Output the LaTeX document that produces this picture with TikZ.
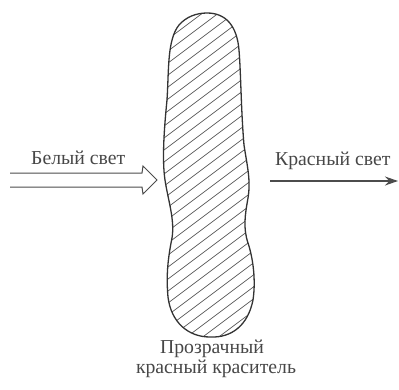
\documentclass[tikz,border=0pt]{standalone}
\usepackage{fontspec}
\setmainfont{Liberation Serif}
\usetikzlibrary{arrows.meta}
\tikzset{
  lbl/.style={font=\fontsize{19.8}{21}\selectfont, text=black!72, inner sep=0pt},
  outline/.style={draw=black!80, line width=1.3bp},
  hatch/.style={draw=black!65, line width=0.7bp},
  hollow/.style={draw=black!70, line width=1bp, line join=miter},
  ray/.style={draw=black!70, line width=1.1bp, -{Stealth[length=13bp,width=9bp]}}
}
\begin{document}
\begin{tikzpicture}[x=1bp,y=-1bp]
\useasboundingbox (0,0) rectangle (399,390);
% blob
\def\blobpath{(207,13) .. controls (226,13) and (237,26) .. (239,50)
  .. controls (241,75) and (241,110) .. (244,145)
  .. controls (247,165) and (251,180) .. (248,198)
  .. controls (245,215) and (243,228) .. (248,243)
  .. controls (253,258) and (256,280) .. (253,300)
  .. controls (248,325) and (232,338) .. (210,337)
  .. controls (188,337) and (171,322) .. (168,297)
  .. controls (166,275) and (168,258) .. (172,238)
  .. controls (175,220) and (168,200) .. (165,180)
  .. controls (162,160) and (164,130) .. (167,100)
  .. controls (169,70) and (167,40) .. (179,25)
  .. controls (186,17) and (196,13) .. (207,13) -- cycle}
\begin{scope}
  \clip \blobpath;
  \foreach \c in {0,12,...,540} {
    \draw[hatch] (140,\c) -- (280,\c-105);
  }
\end{scope}
\draw[outline] \blobpath;
\coordinate (dye) at (210,175);
% white light hollow arrow
\coordinate (w1) at (10,173);
\coordinate (w2) at (142,173);
\coordinate (w3) at (143,166);
\coordinate (wt) at (157,180);
\coordinate (w4) at (143,194);
\coordinate (w5) at (142,187);
\coordinate (w6) at (10,187);
\draw[hollow] (w1) -- (w2) -- (w3) -- (wt) -- (w4) -- (w5) -- (w6);
% red light arrow
\coordinate (r1) at (270,181);
\coordinate (r2) at (398,181);
\draw[ray] (r1) -- (r2);
% labels
\node[lbl, anchor=base west] (white) at (31,164) {Белый свет};
\node[lbl, anchor=base west] (red) at (275,165) {Красный свет};
\node[lbl, anchor=base] (dye1) at (212,353) {Прозрачный};
\node[lbl, anchor=base] (dye2) at (216,373) {красный краситель};
\end{tikzpicture}
\end{document}
